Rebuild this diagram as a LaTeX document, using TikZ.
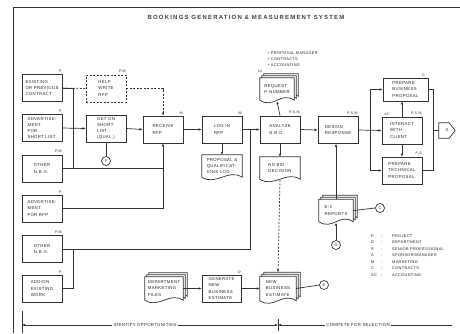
\documentclass[tikz,border=0pt]{standalone}
\usepackage{fontspec}
\setmainfont{Liberation Sans}
\newfontfamily\labfont[LetterSpace=8]{Liberation Sans}
\newfontfamily\ttlfont[LetterSpace=20]{Liberation Sans}
\usetikzlibrary{arrows.meta,calc,backgrounds}
\newcommand\docpath[2]{([shift={#2}]#1.north west) -- ([shift={#2}]#1.north east) -- ([shift={#2}]#1.south east) .. controls +(-14,-9) and +(14,9) .. ([shift={#2}]#1.south west) -- cycle}
\begin{document}
\begin{tikzpicture}[x=1pt,y=-1pt,
 ink/.style={draw=black!80, line width=0.7pt},
 arr/.style={ink, -{Latex[length=3pt,width=2.6pt]}},
 txt/.style={font=\labfont\fontsize{4.3}{6.2}\selectfont, text=black!85, align=left, inner sep=0pt},
 box/.style={txt, ink, rectangle, minimum width=40pt, minimum height=27pt},
 dbox/.style={box, dash pattern=on 2pt off 1.5pt},
 docn/.style={txt, rectangle, minimum width=40pt, minimum height=22pt},
 tag/.style={font=\labfont\fontsize{3.6}{4}\selectfont, text=black!85, inner sep=0.5pt, anchor=south east},
 tagl/.style={tag, anchor=south west},
 circ/.style={ink, circle, minimum size=9pt, inner sep=0pt, font=\labfont\fontsize{3.8}{4}\selectfont, text=black!85},
 docshape/.style={ink, fill=white},
]
\path[use as bounding box] (0,0) rectangle (460,333);
% frame and title
\draw[ink, line width=0.9pt] (460,7) -- (13,7) -- (13,333);
\node[font=\ttlfont\bfseries\fontsize{6}{7}\selectfont, text=black!75] (title) at (246,17) {BOOKINGS GENERATION \& MEASUREMENT SYSTEM};

% left column
\node[box] (exist) at (42,88) {EXISTING\\OR PREVIOUS\\CONTRACT};
\node[box] (adv1) at (42,128) {ADVERTISE-\\MENT\\FOR\\SHORT LIST};
\node[box] (other1) at (42,168.5) {OTHER\\N.B.O.};
\node[box] (adv2) at (42,208.5) {ADVERTISE-\\MENT\\FOR RFP};
\node[box] (other2) at (42,249) {OTHER\\N.B.O.};
\node[box] (addon) at (42,288.5) {ADD/ON\\EXISTING\\WORK};
\node[tag] at ([yshift=0.8pt]exist.north east) {P};
\node[tag] at ([yshift=0.8pt]adv1.north east) {P};
\node[tag] at ([yshift=0.8pt]other1.north east) {P,M};
\node[tag] at ([yshift=0.8pt]adv2.north east) {P};
\node[tag] at ([yshift=0.8pt]other2.north east) {P,M};
\node[tag] at ([yshift=0.8pt]addon.north east) {P};

% second column
\node[dbox] (help) at (106,88.5) {HELP\\WRITE\\RFP};
\node[box] (geton) at (106,128.5) {GET ON\\SHORT\\LIST\\(QUAL.)};
\node[circ] (cP) at (106,161) {F};
\node[tag] at ([yshift=0.8pt]help.north east) {P,M};

% main row
\node[box] (receive) at (163,129.5) {RECEIVE\\RFP};
\node[box] (login) at (222,129.5) {LOG IN\\RFP};
\node[box] (analyze) at (280,129.5) {ANALYZE\\N.B.O.};
\node[box] (design) at (338,130) {DESIGN\\RESPONSE};
\node[tag] at ([yshift=0.8pt]receive.north east) {M};
\node[tag] at ([yshift=0.8pt]login.north east) {M};
\node[tag] at ([yshift=0.8pt]analyze.north east) {P,S,M};
\node[tag] at ([yshift=0.8pt]design.north east) {P,S,M};

\node[docn] (plog) at (222,166) {PROPOSAL \&\\QUALIFICAT-\\IONS LOG};
\node[docn] (nobid) at (280,168) {NO BID\\DECISION};
\node[docn, minimum width=34pt] (req) at (277,89) {REQUEST\\P-NUMBER};
\node[tagl] at ([xshift=-3pt,yshift=4.5pt]req.north west) {14};
\node[txt, font=\labfont\fontsize{3.9}{6.2}\selectfont, anchor=north west] (bul) at (268,51.5) {• PROPOSAL MANAGER\\• CONTRACTS\\• ACCOUNTING};

\node[docn, minimum width=34pt] (e2) at (336,210.5) {E-2\\REPORTS};
\node[circ] (cC) at (380,208) {C};
\node[circ] (cG) at (336,245) {G};

% right column
\node[box, minimum width=45pt, minimum height=23pt] (bus) at (405.5,89.5) {PREPARE\\BUSINESS\\PROPOSAL};
\node[box] (interact) at (402,130.5) {INTERACT\\WITH\\CLIENT};
\node[box] (tech) at (402,170.5) {PREPARE\\TECHNICAL\\PROPOSAL};
\node[tag] at ([yshift=0.8pt,xshift=-3pt]bus.north east) {C};
\node[tag] at ([yshift=0.8pt]interact.north east) {P,S,M};
\node[tagl] at ([yshift=0.8pt,xshift=2pt]interact.north west) {AC};
\node[tag] at ([yshift=0.8pt]tech.north east) {P,S};
\node[txt, minimum width=16pt, minimum height=15pt] (xconn) at (447,130.5) {X};
\draw[ink] (xconn.north west) -- ([xshift=-6pt]xconn.north east) -- (xconn.east) -- ([xshift=-6pt]xconn.south east) -- (xconn.south west) -- cycle;

% bottom row
\node[docn, minimum width=38pt, minimum height=23pt] (dept) at (164,288.5) {DEPARTMENT\\MARKETING\\FILES};
\node[box, minimum width=39pt] (gen) at (221.5,288.5) {GENERATE\\NEW\\BUSINESS\\ESTIMATE};
\node[tag] at ([yshift=0.8pt]gen.north east) {D};
\node[docn, minimum width=36pt, minimum height=24pt] (nbe) at (278,288.5) {NEW\\BUSINESS\\ESTIMATE};
\node[circ] (cE) at (324,285) {E};

% legend
\node[txt, font=\labfont\fontsize{3.9}{6.5}\selectfont, anchor=north west] (legend) at (371,232.5) {%
\begin{tabular}{@{}p{10pt}@{}p{11pt}@{}l@{}}
P&-&PROJECT\\
D&-&DEPARTMENT\\
S&-&SENIOR PROFESSIONAL\\
A&-&SPONSOR/MANAGER\\
M&-&MARKETING\\
C&-&CONTRACTS\\
AC&-&ACCOUNTING
\end{tabular}};

% document shapes
\begin{scope}[on background layer]
\foreach \n in {req,e2,dept,nbe}{
  \draw[docshape] \docpath{\n}{(4,-4)};
  \draw[docshape] \docpath{\n}{(2,-2)};
  \draw[docshape] \docpath{\n}{(0,0)};
}
\foreach \n in {plog,nobid}{\draw[docshape] \docpath{\n}{(0,0)};}
\end{scope}

% connectors
\coordinate (k1) at (73,168.5);
\coordinate (k2) at (73,249);
\coordinate (j1) at (163,168.5);
\coordinate (j2) at (163,208.5);
\coordinate (j3) at (250,129.5);
\coordinate (j4) at (370,130.5);
\coordinate (j5) at (433,130.5);
\draw[ink, dash pattern=on 2pt off 1.5pt] (exist.east) -- (help.west);
\draw[arr, dash pattern=on 2pt off 1.5pt] (help.east) -| (receive.north);
\draw[ink] (exist.east) -| (k1);
\draw[ink] (other1.east) -- (j1);
\draw[ink] (adv2.east) -- (j2);
\draw[arr] (j2) -- (receive.south);
\draw[arr] (adv1.east) -- (geton.west);
\draw[arr] (geton.east) -- (receive.west);
\draw[ink] (geton.south) -- (cP.north);
\draw[arr] (receive.east) -- (login.west);
\draw[arr] (login.south) -- (plog.north);
\draw[arr] (login.east) -- (analyze.west);
\draw[ink] (addon.east) -| (k2);
\draw[ink] (other2.east) -| (j3);
\draw[arr] (analyze.north) -- ([yshift=-1pt]req.south);
\draw[arr] (analyze.south) -- (nobid.north);
\draw[arr, dash pattern=on 2pt off 1.5pt] ([yshift=-1pt]nobid.south) -- ([yshift=4pt]nbe.north);
\draw[arr] (analyze.east) -- (design.west);
\draw[arr] (design.east) -- (interact.west);
\draw[arr] (j4) |- (bus.west);
\draw[arr] (j4) |- (tech.west);
\draw[arr] (interact.north) -- (interact.north |- bus.south);
\draw[arr] (interact.south) -- (tech.north);
\draw[ink] (bus.east) -| (j5);
\draw[ink] (tech.east) -| (j5);
\draw[ink] (j5) -- (xconn.west);
\draw[arr] (e2.north) -- (e2.north |- design.south);
\draw[arr] (cG.north) -- ([yshift=-1pt]e2.south);
\draw[ink] (e2.east) -- (cC.west);
\draw[arr] (dept.east) -- (gen.west);
\draw[arr] (gen.east) -- (nbe.west);
\draw[ink] (nbe.east) -- (cE.west);

% time line
\coordinate (tlL) at (22,325);
\coordinate (tlM) at (278,325);
\coordinate (tlR) at (452,325);
\coordinate (tkLa) at (22,311);
\coordinate (tkLb) at (22,333);
\coordinate (tkMa) at (278,319);
\coordinate (tkMb) at (278,331);
\node[txt, fill=white, inner sep=1pt] (idopp) at (145,325) {IDENTIFY OPPORTUNITIES};
\node[txt, fill=white, inner sep=1pt] (comp) at (358,325) {COMPETE FOR SELECTION};
\draw[ink] (tkLa) -- (tkLb);
\draw[ink] (tkMa) -- (tkMb);
\draw[arr] (idopp.west) -- (tlL);
\draw[arr] (idopp.east) -- (tlM);
\draw[arr] (comp.west) -- (tlM);
\draw[ink] (comp.east) -- (tlR);
\end{tikzpicture}
\end{document}
